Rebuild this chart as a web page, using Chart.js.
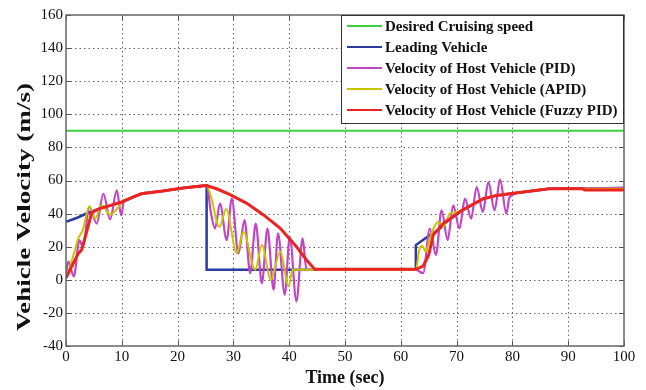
<!DOCTYPE html>
<html><head><meta charset="utf-8">
<script src="https://cdn.jsdelivr.net/npm/chart.js@4"></script>
<style>html,body{margin:0;padding:0;background:#fff}#wrap{width:646px;height:390px;position:relative}</style>
</head><body><div id="wrap"><canvas id="c" width="646" height="390"></canvas></div>
<script>
// ---- data ----
const xTicks = [0,10,20,30,40,50,60,70,80,90,100];
const yTicks = [-40,-20,0,20,40,60,80,100,120,140,160];
const seriesNames = ['Desired Cruising speed','Leading Vehicle','Velocity of Host Vehicle (PID)','Velocity of Host Vehicle (APID)','Velocity of Host Vehicle (Fuzzy PID)'];
const xTitle = 'Time (sec)';
const yTitle = 'Vehicle Velocity (m/s)';

const desiredT = [0, 100];
const desiredV = [90, 90];

const leadT = [0, 2, 4, 6, 8, 10, 12, 13.5, 17, 21, 25.2, 25.2, 45, 62.7, 62.7, 65.2, 66.7, 68.2, 71, 74.8, 77.2, 78.5, 82, 86.6, 100];
const leadV = [35, 37.5, 40.5, 43, 45, 47, 50, 52, 53.5, 55.5, 57, 6, 6, 6, 21, 27, 30, 35, 42, 49, 51, 51.5, 53, 55, 55.5];

const pidT = [0, 0.4, 1.4, 2.4, 3.0, 4.2, 5.5, 6.7, 7.9, 9.1, 9.9, 10.4, 11, 12, 13.5, 17, 21, 25.2,
  26.0, 26.7, 27.6, 28.8, 29.7, 30.9, 32, 33, 34, 35.1, 36.1, 37.2, 38, 39.2, 40.1, 41.3, 42.4, 43.1, 45, 62.7,
  64, 65.2, 66.3, 67.3, 68.4, 69.4, 70.5, 71.5, 72.6, 73.6, 74.7, 75.7, 76.8, 77.8, 78.9, 79.5, 82, 86.6, 100];
const pidV = [3, 11, 2, 24, 20, 44, 34, 52, 36.5, 54, 39, 48, 48.5, 50, 52, 53.5, 55.5, 57,
  40, 31, 46, 24, 49, 16, 36, 4, 34, -2, 31, -6, 28, -9, 26, -13, 25, 6, 6, 6,
  4, 31, 15, 42, 24, 45, 31, 49, 37, 56, 41, 59, 42, 60.5, 40, 50, 53, 55, 55.5];

const apidT = [0, 0.5, 1.6, 2.2, 3, 4.2, 5.2, 6.4, 7.9, 9.4, 10.4, 12, 13.5, 17, 21, 25.2,
  26, 27.5, 28.7, 30.6, 31.8, 33.9, 35.1, 36.7, 38.4, 39.9, 40.6, 45, 62.7,
  63.3, 63.8, 64.5, 65.2, 66.7, 67.6, 68.8, 69.5, 71, 74.8, 77.2, 78.5, 82, 86.6, 100];
const apidV = [2, 6, 18, 25, 30, 44.5, 37, 45, 39.5, 44, 48, 50, 52, 53.5, 55.5, 57,
  50, 32, 42.8, 16, 29, 6, 21, 0, 17, -4, 6, 6, 6,
  18, 20.5, 17, 25, 35, 32, 40, 40.5, 42, 49, 51, 51.5, 53, 55, 55];

const fuzzyT = [0, 1, 2.2, 2.8, 3.7, 4.6, 6, 8, 10, 12, 13.5, 17, 21, 25.2, 27, 29.4, 32.4, 35.4, 38.4, 41.3, 43.1, 44.6, 62.7,
  64, 65, 65.8, 67.6, 71, 74.8, 77.2, 78.5, 82, 86.6, 92.5, 93, 100];
const fuzzyV = [1, 8, 16, 18, 29, 40.5, 43, 45, 47, 50, 52, 53.5, 55.5, 57, 55, 51.5, 46.2, 39.2, 31.1, 20, 12, 6.3, 6.3,
  8.3, 15, 27, 34, 42, 49, 51, 51.5, 53, 55, 55, 54.3, 54.3];

const colors = ['#3ccf3c', '#2b3aa0', '#c445c4', '#c9c400', '#ec2320'];

// ---- build ----
const pts = (t, v) => t.map((x, i) => ({x: x, y: v[i]}));
const SERIF = "'Liberation Serif','DejaVu Serif',serif";

const gridPlugin = {
  id: 'matlabGrid',
  beforeDatasetsDraw(chart) {
    const {ctx, chartArea: ca, scales: {x: xs, y: ys}} = chart;
    ctx.save();
    ctx.strokeStyle = '#666';
    ctx.lineWidth = 1;
    ctx.setLineDash([1.5, 3]);
    xTicks.slice(1, -1).forEach(v => {
      const p = Math.round(xs.getPixelForValue(v)) + 0.5;
      ctx.beginPath(); ctx.moveTo(p, ca.top); ctx.lineTo(p, ca.bottom); ctx.stroke();
    });
    yTicks.slice(1, -1).forEach(v => {
      const p = Math.round(ys.getPixelForValue(v)) + 0.5;
      ctx.beginPath(); ctx.moveTo(ca.left, p); ctx.lineTo(ca.right, p); ctx.stroke();
    });
    ctx.restore();
  },
  afterDatasetsDraw(chart) {
    const {ctx, chartArea: ca, scales: {x: xs, y: ys}} = chart;
    ctx.save();
    ctx.strokeStyle = '#555';
    ctx.lineWidth = 1;
    xTicks.forEach(v => {
      const p = Math.round(xs.getPixelForValue(v)) + 0.5;
      ctx.beginPath(); ctx.moveTo(p, ca.bottom); ctx.lineTo(p, ca.bottom - 5); ctx.stroke();
      ctx.beginPath(); ctx.moveTo(p, ca.top); ctx.lineTo(p, ca.top + 5); ctx.stroke();
    });
    yTicks.forEach(v => {
      const p = Math.round(ys.getPixelForValue(v)) + 0.5;
      ctx.beginPath(); ctx.moveTo(ca.left, p); ctx.lineTo(ca.left + 5, p); ctx.stroke();
      ctx.beginPath(); ctx.moveTo(ca.right, p); ctx.lineTo(ca.right - 5, p); ctx.stroke();
    });
    ctx.lineWidth = 1.5;
    ctx.strokeStyle = '#666';
    ctx.strokeRect(ca.left, ca.top, ca.right - ca.left, ca.bottom - ca.top);
    ctx.restore();
  },
  afterDraw(chart) {
    const {ctx, chartArea: ca} = chart;
    // legend inside the plot, top right
    const left = ca.left + 275, top = ca.top, right = ca.right - 1, bottom = ca.top + 108;
    ctx.save();
    ctx.fillStyle = '#fff';
    ctx.fillRect(left, top, right - left, bottom - top);
    ctx.strokeStyle = '#333';
    ctx.lineWidth = 1;
    ctx.strokeRect(left + 0.5, top + 0.5, right - left, bottom - top);
    ctx.font = 'bold 15px ' + SERIF;
    ctx.textBaseline = 'middle';
    ctx.fillStyle = '#111';
    seriesNames.forEach((name, i) => {
      const yy = top + 11 + i * 21;
      ctx.strokeStyle = colors[i];
      ctx.lineWidth = 2;
      ctx.beginPath(); ctx.moveTo(left + 6, yy); ctx.lineTo(left + 41, yy); ctx.stroke();
      ctx.fillText(name, left + 44, yy + 1);
    });
    ctx.restore();
    // y axis title (rotated, stretched along its length like the reference)
    ctx.save();
    ctx.translate(25, 207);
    ctx.rotate(-Math.PI / 2);
    ctx.font = 'bold 19px ' + SERIF;
    const w = ctx.measureText(yTitle).width;
    ctx.scale(248 / w, 1);
    ctx.textAlign = 'center';
    ctx.textBaseline = 'middle';
    ctx.fillStyle = '#111';
    ctx.fillText(yTitle, 0, 0);
    ctx.restore();
  }
};

const mk = (i, t, v, w, smooth, order) => ({
  label: seriesNames[i], data: pts(t, v), borderColor: colors[i], backgroundColor: colors[i],
  borderWidth: w, pointRadius: 0, fill: false, order: order,
  cubicInterpolationMode: smooth ? 'monotone' : 'default', tension: 0
});

new Chart(document.getElementById('c'), {
  type: 'line',
  data: {
    datasets: [
      mk(4, fuzzyT, fuzzyV, 3, false, 1),
      mk(3, apidT, apidV, 2, true, 2),
      mk(2, pidT, pidV, 2.2, true, 3),
      mk(1, leadT, leadV, 2.5, false, 4),
      mk(0, desiredT, desiredV, 2, false, 5)
    ]
  },
  options: {
    responsive: false,
    animation: false,
    devicePixelRatio: 1,
    layout: {padding: {left: 0, right: 22, top: 15, bottom: 0}},
    plugins: {legend: {display: false}, tooltip: {enabled: false}},
    scales: {
      x: {
        type: 'linear', min: 0, max: 100,
        afterBuildTicks: s => { s.ticks = xTicks.map(v => ({value: v})); },
        afterFit: s => { s.height = 44; },
        ticks: {font: {family: SERIF, size: 15}, color: '#111', padding: 2, maxRotation: 0},
        grid: {display: false, drawTicks: false}, border: {display: false},
        title: {display: true, text: xTitle, font: {family: SERIF, size: 18, weight: 'bold'}, color: '#111', padding: {top: 0, bottom: 1}}
      },
      y: {
        type: 'linear', min: -40, max: 160,
        afterBuildTicks: s => { s.ticks = yTicks.map(v => ({value: v})); },
        afterFit: s => { s.width = 66; },
        ticks: {font: {family: SERIF, size: 15}, color: '#111', padding: 3},
        grid: {display: false, drawTicks: false}, border: {display: false},
        title: {display: false}
      }
    }
  },
  plugins: [gridPlugin]
});
</script>
</body></html>
